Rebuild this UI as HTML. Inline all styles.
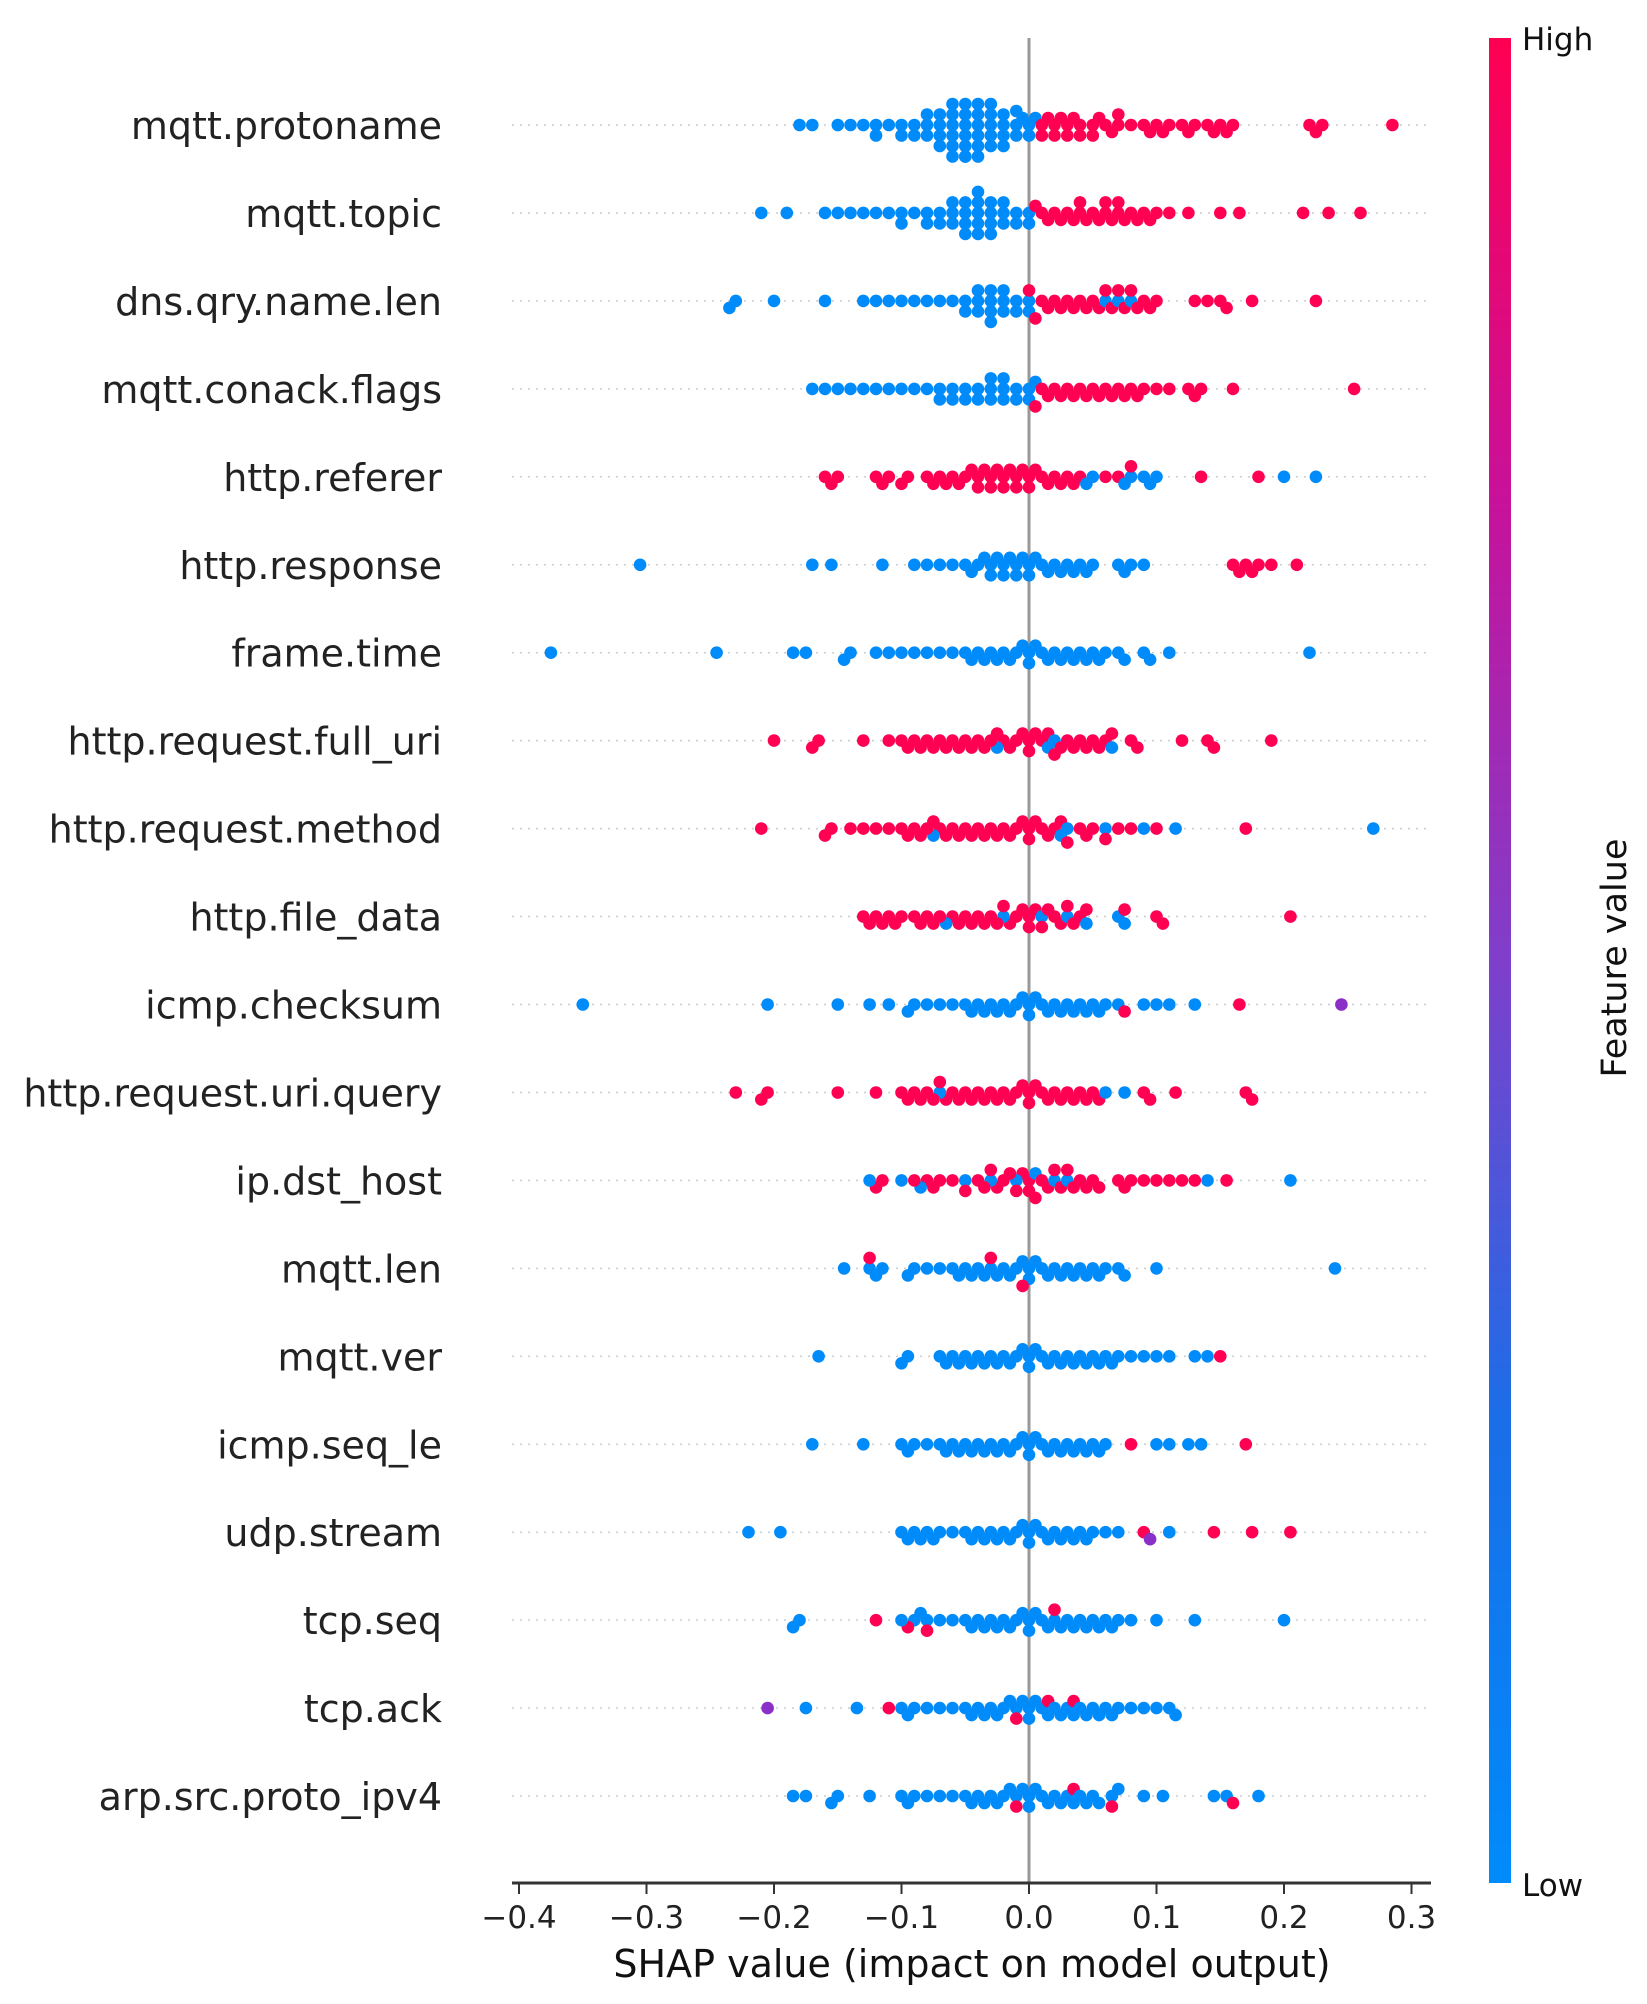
<!DOCTYPE html>
<html><head><meta charset="utf-8"><style>
html,body{margin:0;padding:0;background:#fff;}
svg{display:block;font-family:"DejaVu Sans","Liberation Sans",sans-serif;}
</style></head><body>
<svg id="chart" width="1647" height="2004" viewBox="0 0 1647 2004" xmlns="http://www.w3.org/2000/svg">
<defs>
<linearGradient id="cbar" x1="0" y1="1" x2="0" y2="0">
<stop offset="0" stop-color="#008bfb"/>
<stop offset="0.25" stop-color="#1a6ee8"/>
<stop offset="0.5" stop-color="#7f3fcb"/>
<stop offset="0.75" stop-color="#c8119a"/>
<stop offset="1" stop-color="#ff0052"/>
</linearGradient>
</defs>
<g id="grid"></g>
<line x1="1029" y1="38" x2="1029" y2="1883" stroke="#999" stroke-width="3"/>
<g id="dots"></g>
<g id="ylabels"></g>
<line x1="512" y1="1883" x2="1431" y2="1883" stroke="#333" stroke-width="3"/>
<g id="xticks"></g>
<text x="972" y="1977" font-size="38" text-anchor="middle" fill="#111">SHAP value (impact on model output)</text>
<rect x="1489" y="38" width="22" height="1845" fill="url(#cbar)"/>
<text x="1522" y="50" font-size="31" fill="#111">High</text>
<text x="1522" y="1896" font-size="31" fill="#111">Low</text>
<text x="1624" y="960" font-size="35" fill="#111" text-anchor="middle" transform="rotate(-90 1624 958)">Feature value</text>
</svg>
<script>
const features = ["mqtt.protoname","mqtt.topic","dns.qry.name.len","mqtt.conack.flags","http.referer","http.response","frame.time","http.request.full_uri","http.request.method","http.file_data","icmp.checksum","http.request.uri.query","ip.dst_host","mqtt.len","mqtt.ver","icmp.seq_le","udp.stream","tcp.seq","tcp.ack","arp.src.proto_ipv4"];
const xTicks = [-0.4,-0.3,-0.2,-0.1,0.0,0.1,0.2,0.3];
// SHAP values in hundredths, grouped by feature value (low / high / mid)
const lowShap = [
[-18,-17,-15,-14,-13,-12,-12,-11,-10,-10,-9,-9,-8,-8,-8,-7,-7,-7,-7,-6,-6,-6,-6,-6,-6,-5,-5,-5,-5,-5,-5,-5,-4,-4,-4,-4,-4,-4,-3,-3,-3,-3,-3,-2,-2,-2,-2,-1,-1,-1,0,0,0.5,-0.5],
[-21,-19,-16,-15,-14,-13,-12,-11,-10,-10,-9,-8,-8,-7,-7,-6,-6,-6,-5,-5,-5,-5,-4,-4,-4,-4,-4,-3,-3,-3,-3,-2,-2,-2,-1,-1,0,0],
[-23.5,-23,-20,-16,-13,-12,-11,-10,-9,-8,-7,-6,-5,-5,-4,-4,-4,-3,-3,-3,-3,-2,-2,-2,-1,-1,0,0,6,7,8],
[-17,-16,-15,-14,-13,-12,-11,-10,-9,-8,-7,-7,-6,-6,-5,-5,-4,-4,-3,-3,-3,-2,-2,-2,-1,-1,0,0,0.5],
[4.5,5,7.5,8,9,9.5,10,20,22.5],
[-30.5,-17,-15.5,-11.5,-9,-8,-7,-6,-5,-4.5,-4,-3.5,-3,-3,-2.5,-2,-2,-1.5,-1,-1,-0.5,0,0,0.5,1,1.5,2,2.5,3,3.5,4,4.5,5,7,7.5,8,9],
[-37.5,-24.5,-18.5,-17.5,-14.5,-14,-12,-11,-10,-9,-8,-7,-6,-5,-4.5,-4,-3.5,-3,-2.5,-2,-1.5,-1,-0.5,0,0,0.5,1,1.5,2,2.5,3,3.5,4,4.5,5,5.5,6,7,7.5,9,9.5,11,22],
[-2.5,1.5,2,6.5],
[-7.5,2.5,3,6,9,11.5,27],
[-6.5,-2,1,3,4.5,7,7.5],
[-35,-20.5,-15,-12.5,-11,-9.5,-9,-8,-7,-6,-5,-4.5,-4,-3.5,-3,-2.5,-2,-1.5,-1,-0.5,0,0,0.5,1,1.5,2,2.5,3,3.5,4,4.5,5,5.5,6,7,9,10,11,13],
[-7,6,7.5],
[-12.5,-10,-8.5,-5,-3,-1,0.5,2,3,14,20.5],
[-14.5,-12.5,-12,-11.5,-9.5,-9,-8,-7,-6,-5.5,-5,-4.5,-4,-3.5,-3,-2.5,-2,-1.5,-1,-0.5,0,0,0.5,1,1.5,2,2.5,3,3.5,4,4.5,5,5.5,6,7,7.5,10,24],
[-16.5,-10,-9.5,-7,-6.5,-6,-5.5,-5,-4.5,-4,-3.5,-3,-2.5,-2,-1.5,-1,-0.5,0,0,0.5,1,1.5,2,2.5,3,3.5,4,4.5,5,5.5,6,6.5,7,8,9,10,11,13,14],
[-17,-13,-10,-9.5,-9,-8,-7,-6.5,-6,-5.5,-5,-4.5,-4,-3.5,-3,-2.5,-2,-1.5,-1,-0.5,0,0,0.5,1,1.5,2,2.5,3,3.5,4,4.5,5,5.5,6,10,11,12.5,13.5],
[-22,-19.5,-10,-9.5,-9,-8.5,-8,-7.5,-7,-6,-5,-4.5,-4,-3.5,-3,-2.5,-2,-1.5,-1,-0.5,0,0,0.5,1,1.5,2,2.5,3,3.5,4,4.5,5,6,7,11],
[-18.5,-18,-10,-9,-8.5,-8,-7,-6,-5,-4.5,-4,-3.5,-3,-2.5,-2,-1.5,-1,-0.5,0,0,0.5,1,1.5,2,2.5,3,3.5,4,4.5,5,5.5,6,6.5,7,8,10,13,20],
[-17.5,-13.5,-10,-9.5,-9,-8,-7,-6,-5,-4.5,-4,-3.5,-3,-2.5,-2,-1.5,-1,-0.5,0,0,0.5,1,1.5,2,2.5,3,3.5,4,4.5,5,5.5,6,6.5,7,8,9,10,11,11.5],
[-18.5,-17.5,-15.5,-15,-12.5,-10,-9.5,-9,-8,-7,-6,-5,-4.5,-4,-3.5,-3,-2.5,-2,-1.5,-1,-0.5,0,0,0.5,1,1.5,2,2.5,3,3.5,4,4.5,5,5.5,6.5,7,9,10.5,14.5,15.5,18]
];
const highShap = [
[1,1,1.5,2,2,2.5,3,3,3.5,4,4,5,5,5.5,6,6.5,7,7,8,9,9.5,10,10.5,11,12,12.5,13,14,14.5,15,15.5,16,22,22.5,23,28.5],
[0.5,1,1.5,2,2.5,3,3.5,4,4,4.5,5,5.5,6,6,6.5,7,7,7.5,8,8.5,9,9.5,10,11,12.5,15,16.5,21.5,23.5,26],
[0,0.5,1,1.5,2,2.5,3,3.5,4,4.5,5,5.5,6,6.5,7,7.5,8,8.5,9,9.5,10,13,14,15,15.5,17.5,22.5],
[0.5,1,1.5,2,2.5,3,3.5,4,4.5,5,5.5,6,6.5,7,7.5,8,8.5,9,10,11,12.5,13,13.5,16,25.5],
[-16,-15.5,-15,-12,-11.5,-11,-10,-9.5,-8,-7.5,-7,-6.5,-6,-5.5,-5,-4.5,-4,-4,-3.5,-3,-3,-2.5,-2,-2,-1.5,-1,-1,-0.5,0,0,0.5,1,1.5,2,2.5,3,3.5,4,6,7,8,13.5,18],
[16,16.5,17,17.5,18,19,21],
[],
[-20,-17,-16.5,-13,-11,-10,-9.5,-9,-8.5,-8,-7.5,-7,-6.5,-6,-5.5,-5,-4.5,-4,-3.5,-3,-2.5,-2,-1.5,-1,-0.5,0,0,0.5,1,1.5,2,2.5,3,3.5,4,4.5,5,5.5,6,6.5,8,8.5,12,14,14.5,19],
[-21,-16,-15.5,-14,-13,-12,-11,-10,-9.5,-9,-8.5,-8,-7.5,-7,-6.5,-6,-5.5,-5,-4.5,-4,-3.5,-3,-2.5,-2,-1.5,-1,-0.5,0,0,0.5,1,1.5,2,2.5,3,4,4.5,5,6,7,8,10,17],
[-13,-12.5,-12,-11.5,-11,-10.5,-10,-9,-8.5,-8,-7.5,-7,-6,-5.5,-5,-4.5,-4,-3.5,-3,-2.5,-2,-1.5,-1,-0.5,0,0,0.5,1,1.5,2,2.5,3,3.5,4,4.5,7.5,10,10.5,20.5],
[7.5,16.5],
[-23,-21,-20.5,-15,-12,-10,-9.5,-9,-8.5,-8,-7.5,-7,-6.5,-6,-5.5,-5,-4.5,-4,-3.5,-3,-2.5,-2,-1.5,-1,-0.5,0,0,0.5,1,1.5,2,2.5,3,3.5,4,4.5,5,5.5,9,9.5,11.5,17,17.5],
[-12,-11.5,-9,-8,-7.5,-7,-6,-5,-4,-3.5,-3,-2.5,-2,-1.5,-1,-0.5,0,0,0.5,1,1.5,2,2.5,3,3.5,4,4.5,5,5.5,7,7.5,8,9,10,11,12,13,15.5],
[-12.5,-3,-0.5],
[15],
[8,17],
[9,14.5,17.5,20.5],
[-12,-9.5,-8,2],
[-11,-1,1.5,3.5],
[-1,3.5,6.5,16]
];
const midShap = [[],[],[],[],[],[],[],[],[],[],[24.5],[],[],[],[],[],[9.5],[],[-20.5],[]];

const X0 = 1029, PER_UNIT = 1275; // px per 1.0 SHAP
function xScale(v){ return X0 + v*PER_UNIT; }
const ROW0 = 125, ROW_STEP = 87.95;
function yScale(i){ return ROW0 + i*ROW_STEP; }
const NS = "http://www.w3.org/2000/svg";
const grid = document.getElementById('grid');
const dots = document.getElementById('dots');
const ylabels = document.getElementById('ylabels');
const xticks = document.getElementById('xticks');

features.forEach((f,i)=>{
  const y = yScale(i);
  const ln = document.createElementNS(NS,'line');
  
  
  ln.setAttribute('x1',512); ln.setAttribute('x2',1431);
  ln.setAttribute('y1',y); ln.setAttribute('y2',y);
  ln.setAttribute('stroke','#ccc'); ln.setAttribute('stroke-width','1.5');
  ln.setAttribute('stroke-dasharray','2 6');
  grid.appendChild(ln);
  const t = document.createElementNS(NS,'text');
  
  
  t.setAttribute('x',442); t.setAttribute('y',y+14);
  t.setAttribute('text-anchor','end'); t.setAttribute('font-size','38');
  t.setAttribute('fill','#222');
  t.textContent = f;
  ylabels.appendChild(t);

  const pts = [];
  lowShap[i].forEach(v=>pts.push({v:v/100,c:'#008bfb'}));
  highShap[i].forEach(v=>pts.push({v:v/100,c:'#ff0052'}));
  midShap[i].forEach(v=>pts.push({v:v/100,c:'#8a2fc8'}));
  pts.sort((a,b)=>Math.abs(a.v)-Math.abs(b.v));
  const placed = [];
  const r = 6.3, minD = 2*r*0.62;
  pts.forEach(p=>{
    const px = xScale(p.v);
    let off = 0, k = 0;
    for(;;){
      const cand = k===0?0:(k%2? Math.ceil(k/2):-Math.ceil(k/2))*3.5;
      const ok = placed.every(q=>{const dx=q.x-px, dy=q.y-cand; return dx*dx+dy*dy>=minD*minD;});
      if(ok || Math.abs(cand)>30){off=cand;break;}
      k++;
    }
    placed.push({x:px,y:off,c:p.c});
  });
  placed.forEach(q=>{
    const c = document.createElementNS(NS,'circle');
    
    
    c.setAttribute('cx',q.x.toFixed(1)); c.setAttribute('cy',(y+q.y).toFixed(1));
    c.setAttribute('r',r); c.setAttribute('fill',q.c);
    dots.appendChild(c);
  });
});

xTicks.forEach(v=>{
  const x = xScale(v);
  const tk = document.createElementNS(NS,'line');
  
  
  tk.setAttribute('x1',x); tk.setAttribute('x2',x);
  tk.setAttribute('y1',1883); tk.setAttribute('y2',1894);
  tk.setAttribute('stroke','#333'); tk.setAttribute('stroke-width','2');
  xticks.appendChild(tk);
  const t = document.createElementNS(NS,'text');
  
  
  t.setAttribute('x',x); t.setAttribute('y',1928);
  t.setAttribute('text-anchor','middle'); t.setAttribute('font-size','31');
  t.setAttribute('fill','#222');
  t.textContent = (v<0?'\u2212':'') + Math.abs(v).toFixed(1);
  xticks.appendChild(t);
});
</script>
</body></html>
